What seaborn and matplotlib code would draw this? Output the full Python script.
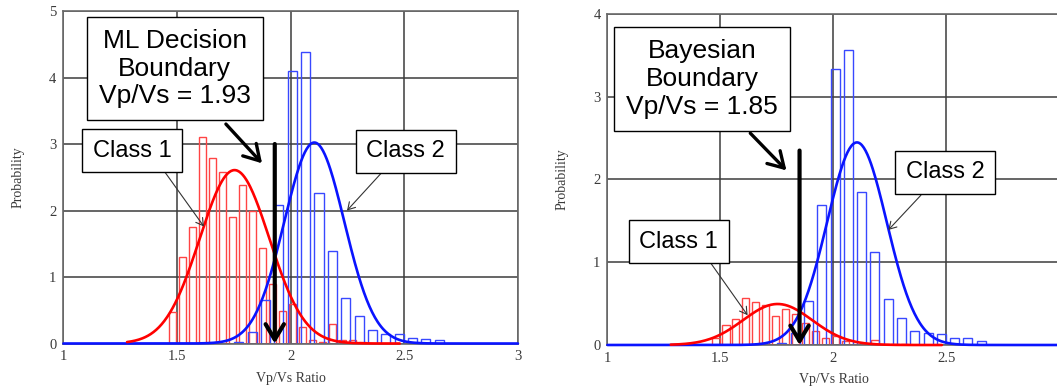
import numpy as np
import pandas as pd
import matplotlib
matplotlib.use('Agg')
import matplotlib.pyplot as plt
import seaborn as sns

# histogram bin centres (Vp/Vs ratio) and bar heights
class1_centers = [1.480, 1.524, 1.568, 1.612, 1.656, 1.700, 1.744, 1.788, 1.832, 1.876,
                  1.920, 1.964, 2.008, 2.052, 2.096, 2.140, 2.184, 2.228, 2.272, 2.316]
class1_ml = [0.48, 1.30, 1.75, 3.10, 2.79, 2.58, 1.90, 2.38, 2.00, 1.44,
             0.90, 0.49, 0.60, 0.25, 0.05, 0.02, 0.30, 0.05, 0.06, 0.02]
class1_bayes = [0.08, 0.24, 0.32, 0.57, 0.52, 0.48, 0.35, 0.43, 0.38, 0.27,
                0.17, 0.09, 0.11, 0.05, 0.01, 0.01, 0.06, 0.01, 0.01, 0.01]

class2_centers = [1.772, 1.831, 1.889, 1.948, 2.007, 2.066, 2.125, 2.183,
                  2.242, 2.301, 2.360, 2.419, 2.477, 2.536, 2.595, 2.654]
class2_ml = [0.03, 0.18, 0.66, 2.08, 4.10, 4.39, 2.26, 1.39,
             0.68, 0.41, 0.20, 0.15, 0.15, 0.08, 0.07, 0.05]
class2_bayes = [0.02, 0.15, 0.53, 1.69, 3.33, 3.56, 1.85, 1.12,
                0.56, 0.33, 0.17, 0.14, 0.13, 0.08, 0.08, 0.05]

# fitted gaussians and priors
class1_mean, class1_sd = 1.753, 0.153
class2_mean, class2_sd = 2.104, 0.132
prior1, prior2 = 0.19, 0.81

ml_boundary = 1.93
bayes_boundary = 1.85

x_ticks = [1, 1.5, 2, 2.5, 3]
x_tick_labels = ['1', '1.5', '2', '2.5', '3']

RED_BAR, BLUE_BAR = '#ff4444', '#3848ff'
RED_LINE, BLUE_LINE = '#ff0000', '#0a14ff'
GRID = '#3c3c3c'

sns.set_theme(style='white')
plt.rcParams['font.family'] = ['Liberation Serif', 'DejaVu Serif']


def gauss(x, mu, sd, scale):
    return scale * np.exp(-0.5 * ((x - mu) / sd) ** 2) / (sd * np.sqrt(2 * np.pi))


def hist(ax, centers, heights, width, shrink, color):
    df = pd.DataFrame({'ratio': centers, 'h': heights})
    sns.histplot(data=df, x='ratio', weights='h', binwidth=width,
                 binrange=(centers[0] - width / 2, centers[-1] + width / 2),
                 fill=False, shrink=shrink, color=color, linewidth=1.0, ax=ax)


def panel(ax, h1, h2, s1, s2, ymax, nticks):
    hist(ax, class1_centers, h1, 0.044, 0.73, RED_BAR)
    hist(ax, class2_centers, h2, 0.0588, 0.68, BLUE_BAR)
    xb = np.linspace(1, 3, 500)
    xr = np.linspace(1.28, 2.48, 300)
    sns.lineplot(x=xb, y=gauss(xb, class2_mean, class2_sd, s2), color=BLUE_LINE,
                 lw=1.9, ax=ax, clip_on=False, zorder=4)
    sns.lineplot(x=xr, y=gauss(xr, class1_mean, class1_sd, s1), color=RED_LINE,
                 lw=1.9, ax=ax, clip_on=False, zorder=5)
    ax.set_xlim(1, 3)
    ax.set_ylim(0, ymax)
    ax.set_xticks(x_ticks[:nticks])
    ax.set_xticklabels(x_tick_labels[:nticks])
    ax.set_yticks(range(ymax + 1))
    ax.grid(True, color=GRID, lw=1.1)
    ax.set_axisbelow(True)
    for sp in ax.spines.values():
        sp.set_color('#6a6a6a')
        sp.set_linewidth(1.2)
    ax.tick_params(length=0, labelsize=10.5, colors='#3a3a3a', pad=5)
    ax.set_xlabel('Vp/Vs Ratio', fontsize=10, color='#3a3a3a')
    ax.set_ylabel('Probability', fontsize=10, color='#3a3a3a')
    ax.xaxis.set_label_coords(0.5, -0.085)
    ax.yaxis.set_label_coords(-0.086, 0.5)


def box(ax, x, y, s, size):
    ax.text(x, y, s, ha='center', va='center', fontsize=size, family='Liberation Sans',
            color='black', linespacing=1.2, zorder=10,
            bbox=dict(boxstyle='square,pad=0.45', fc='white', ec='black', lw=1))


def arrow(ax, tail, tip, lw, scale, color='black'):
    ax.annotate('', xy=tip, xytext=tail, zorder=9,
                arrowprops=dict(arrowstyle='->,head_length=0.5,head_width=0.3',
                                lw=lw, color=color, mutation_scale=scale,
                                shrinkA=0, shrinkB=0))


fig = plt.figure(figsize=(10.57, 3.9), dpi=100)
ax1 = fig.add_axes([0.060, 0.1192, 0.430, 0.8526])
ax2 = fig.add_axes([0.5747, 0.1154, 0.4276, 0.8487])

# left: maximum likelihood
panel(ax1, class1_ml, class2_ml, 1.0, 1.0, 5, 5)
arrow(ax1, (ml_boundary, 3.0), (ml_boundary, 0.0), 3.0, 22)
arrow(ax1, (1.715, 3.30), (1.874, 2.71), 2.4, 22)
arrow(ax1, (1.446, 2.58), (1.618, 1.76), 0.8, 10, '#333333')
arrow(ax1, (2.398, 2.56), (2.248, 2.00), 0.8, 10, '#333333')
box(ax1, 1.49, 4.135, 'ML Decision\nBoundary\nVp/Vs = 1.93', 19)
box(ax1, 1.302, 2.90, 'Class 1', 17)
box(ax1, 2.506, 2.89, 'Class 2', 17)

# right: bayesian (the x = 3 end falls just outside the picture)
panel(ax2, class1_bayes, class2_bayes, prior1, prior2, 4, 4)
arrow(ax2, (bayes_boundary, 2.35), (bayes_boundary, 0.0), 3.0, 22)
arrow(ax2, (1.632, 2.56), (1.792, 2.11), 2.4, 22)
arrow(ax2, (1.457, 0.99), (1.620, 0.36), 0.8, 10, '#333333')
arrow(ax2, (2.387, 1.81), (2.243, 1.39), 0.8, 10, '#333333')
box(ax2, 1.418, 3.215, 'Bayesian\nBoundary\nVp/Vs = 1.85', 19)
box(ax2, 1.315, 1.25, 'Class 1', 17)
box(ax2, 2.494, 2.085, 'Class 2', 17)

fig.savefig('out.png', dpi=100)
